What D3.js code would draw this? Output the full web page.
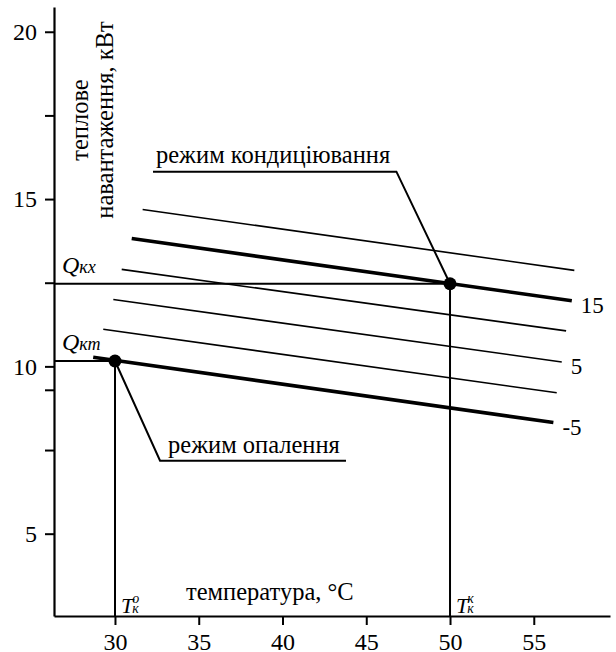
<!DOCTYPE html>
<html>
<head>
<meta charset="utf-8">
<script src="https://cdn.jsdelivr.net/npm/d3@7"></script>
<style>
    body { margin: 0; background: #fff; }
    svg text { font-family: "Liberation Serif", "Times New Roman", serif; fill: #000; }
</style>
</head>
<body>
<div id="chart-container"></div>
<script>
// regime lines (room temperature setpoint), start/end points
const regimes = [20, 15, 10, 5, 0, -5];
const startT = [31.65, 31.0, 30.4, 29.9, 29.3, 28.7];
const startQ = [14.69, 13.82, 12.90, 12.00, 11.11, 10.27];
const endT = [57.42, 57.27, 56.93, 56.67, 56.37, 56.17];
const endQ = [12.87, 11.96, 11.06, 10.13, 9.21, 8.32];
const boldRegimes = [15, -5];
const labelledRegimes = [15, 5, -5];

// operating points
const coolPoint = { t: 50, q: 12.47 };
const heatPoint = { t: 30, q: 10.16 };

const xTicks = [30, 35, 40, 45, 50, 55];
const yTicks = [5, 10, 15, 20];
const yMinorTicks = [7.5, 9.3, 12.5, 17.5];

const W = 616, H = 652;
const FONT = '"Liberation Serif", "Times New Roman", serif';

const svg = d3.select("#chart-container")
    .append("svg")
    .attr("width", W)
    .attr("height", H)
    .style("font-family", FONT);

const xScale = d3.scaleLinear().domain([26.36, 59.55]).range([54, 610]);
const yScale = d3.scaleLinear().domain([2.54, 20.74]).range([616, 7]);

const lines = regimes.map((r, i) => ({
    regime: r,
    p0: [startT[i], startQ[i]],
    p1: [endT[i], endQ[i]]
}));

// axes
const yAxis = svg.append("g")
    .attr("transform", `translate(${xScale.range()[0]},0)`)
    .call(d3.axisLeft(yScale).tickValues(yTicks).tickSize(9).tickSizeOuter(0).tickPadding(8));
yAxis.append("g")
    .call(d3.axisLeft(yScale).tickValues(yMinorTicks).tickSize(9).tickFormat(""))
    .select(".domain").remove();

const xAxis = svg.append("g")
    .attr("transform", `translate(0,${yScale.range()[0]})`)
    .call(d3.axisBottom(xScale).tickValues(xTicks).tickSize(9).tickSizeOuter(0).tickPadding(5));

svg.selectAll("g").attr("font-family", null);
svg.selectAll(".domain").attr("stroke", "#000").attr("stroke-width", 2.2);
svg.selectAll(".tick line").attr("stroke", "#000").attr("stroke-width", 2);
svg.selectAll(".tick text")
    .style("font-family", FONT)
    .style("font-size", "24px")
    .attr("fill", "#000");
xAxis.selectAll(".tick text").attr("dy", "0.82em");

// regime lines
svg.selectAll(".regime")
    .data(lines)
    .enter()
    .append("line")
    .attr("class", "regime")
    .attr("x1", d => xScale(d.p0[0]))
    .attr("y1", d => yScale(d.p0[1]))
    .attr("x2", d => xScale(d.p1[0]))
    .attr("y2", d => yScale(d.p1[1]))
    .attr("stroke", "#000")
    .attr("stroke-width", d => boldRegimes.includes(d.regime) ? 3.6 : 1.6);

svg.selectAll(".regime-label")
    .data(lines.filter(d => labelledRegimes.includes(d.regime)))
    .enter()
    .append("text")
    .attr("class", "regime-label")
    .attr("x", d => xScale(d.p1[0]) + 9)
    .attr("y", d => yScale(d.p1[1]) + 4)
    .attr("dy", "0.35em")
    .style("font-family", FONT)
    .style("font-size", "23px")
    .text(d => d.regime);

// reference lines from the axes to the points
const guide = (x1, y1, x2, y2) => svg.append("line")
    .attr("x1", x1).attr("y1", y1).attr("x2", x2).attr("y2", y2)
    .attr("stroke", "#000").attr("stroke-width", 2);

guide(xScale.range()[0], yScale(coolPoint.q), xScale(coolPoint.t), yScale(coolPoint.q));
guide(xScale.range()[0], yScale(heatPoint.q), xScale(heatPoint.t), yScale(heatPoint.q));
guide(xScale(coolPoint.t), yScale(coolPoint.q), xScale(coolPoint.t), yScale.range()[0]);
guide(xScale(heatPoint.t), yScale(heatPoint.q), xScale(heatPoint.t), yScale.range()[0]);

// annotations: underline and leader to the operating point
function leader(x0, x1, yLine, point, fromRight) {
    const pts = [
        [xScale(x0), yScale(yLine)],
        [xScale(x1), yScale(yLine)]
    ];
    if (fromRight) pts.push([xScale(point.t), yScale(point.q)]);
    else pts.unshift([xScale(point.t), yScale(point.q)]);
    svg.append("polyline")
        .attr("points", pts.map(p => p.join(",")).join(" "))
        .attr("fill", "none")
        .attr("stroke", "#000")
        .attr("stroke-width", 2);
}
leader(32.27, 46.8, 15.82, coolPoint, true);
leader(32.69, 43.79, 7.18, heatPoint, false);

svg.append("text")
    .attr("x", xScale(32.27) + 3)
    .attr("y", yScale(15.82) - 9)
    .style("font-family", FONT)
    .style("font-size", "24.5px")
    .text("режим кондиціювання");

svg.append("text")
    .attr("x", xScale(32.69) + 8)
    .attr("y", yScale(7.18) - 8)
    .style("font-family", FONT)
    .style("font-size", "24.5px")
    .text("режим опалення");

// operating point dots
svg.selectAll(".point")
    .data([coolPoint, heatPoint])
    .enter()
    .append("circle")
    .attr("cx", d => xScale(d.t))
    .attr("cy", d => yScale(d.q))
    .attr("r", 6.5)
    .attr("fill", "#000");

// axis titles
const yTitle = svg.append("g")
    .attr("transform", `translate(88,120) rotate(-90)`);
yTitle.append("text")
    .attr("text-anchor", "middle")
    .style("font-family", FONT)
    .style("font-size", "24.5px")
    .text("теплове");
yTitle.append("text")
    .attr("text-anchor", "middle")
    .attr("y", 25)
    .style("font-family", FONT)
    .style("font-size", "24.5px")
    .text("навантаження, кВт");

svg.append("text")
    .attr("x", 186)
    .attr("y", 600)
    .style("font-family", FONT)
    .style("font-size", "24.5px")
    .text("температура, °C");

// Q labels
function qLabel(sub, q) {
    const t = svg.append("text")
        .attr("x", 62)
        .attr("y", yScale(q) - 11)
        .style("font-family", FONT)
        .style("font-style", "italic");
    t.append("tspan").style("font-size", "24px").text("Q");
    t.append("tspan").style("font-size", "18px").text(sub);
}
qLabel("кх", coolPoint.q);
qLabel("кт", heatPoint.q);

// T labels with subscript and superscript
function tLabel(sup, t) {
    const txt = svg.append("text")
        .attr("x", xScale(t) + 6)
        .attr("y", 613)
        .style("font-family", FONT)
        .style("font-style", "italic");
    txt.append("tspan").style("font-size", "22px").text("T");
    txt.append("tspan").style("font-size", "14px").attr("dx", -1).text("к");
    txt.append("tspan").style("font-size", "14px").attr("dx", -6.5).attr("dy", -10).text(sup);
}
tLabel("o", heatPoint.t);
tLabel("к", coolPoint.t);
</script>
</body>
</html>
